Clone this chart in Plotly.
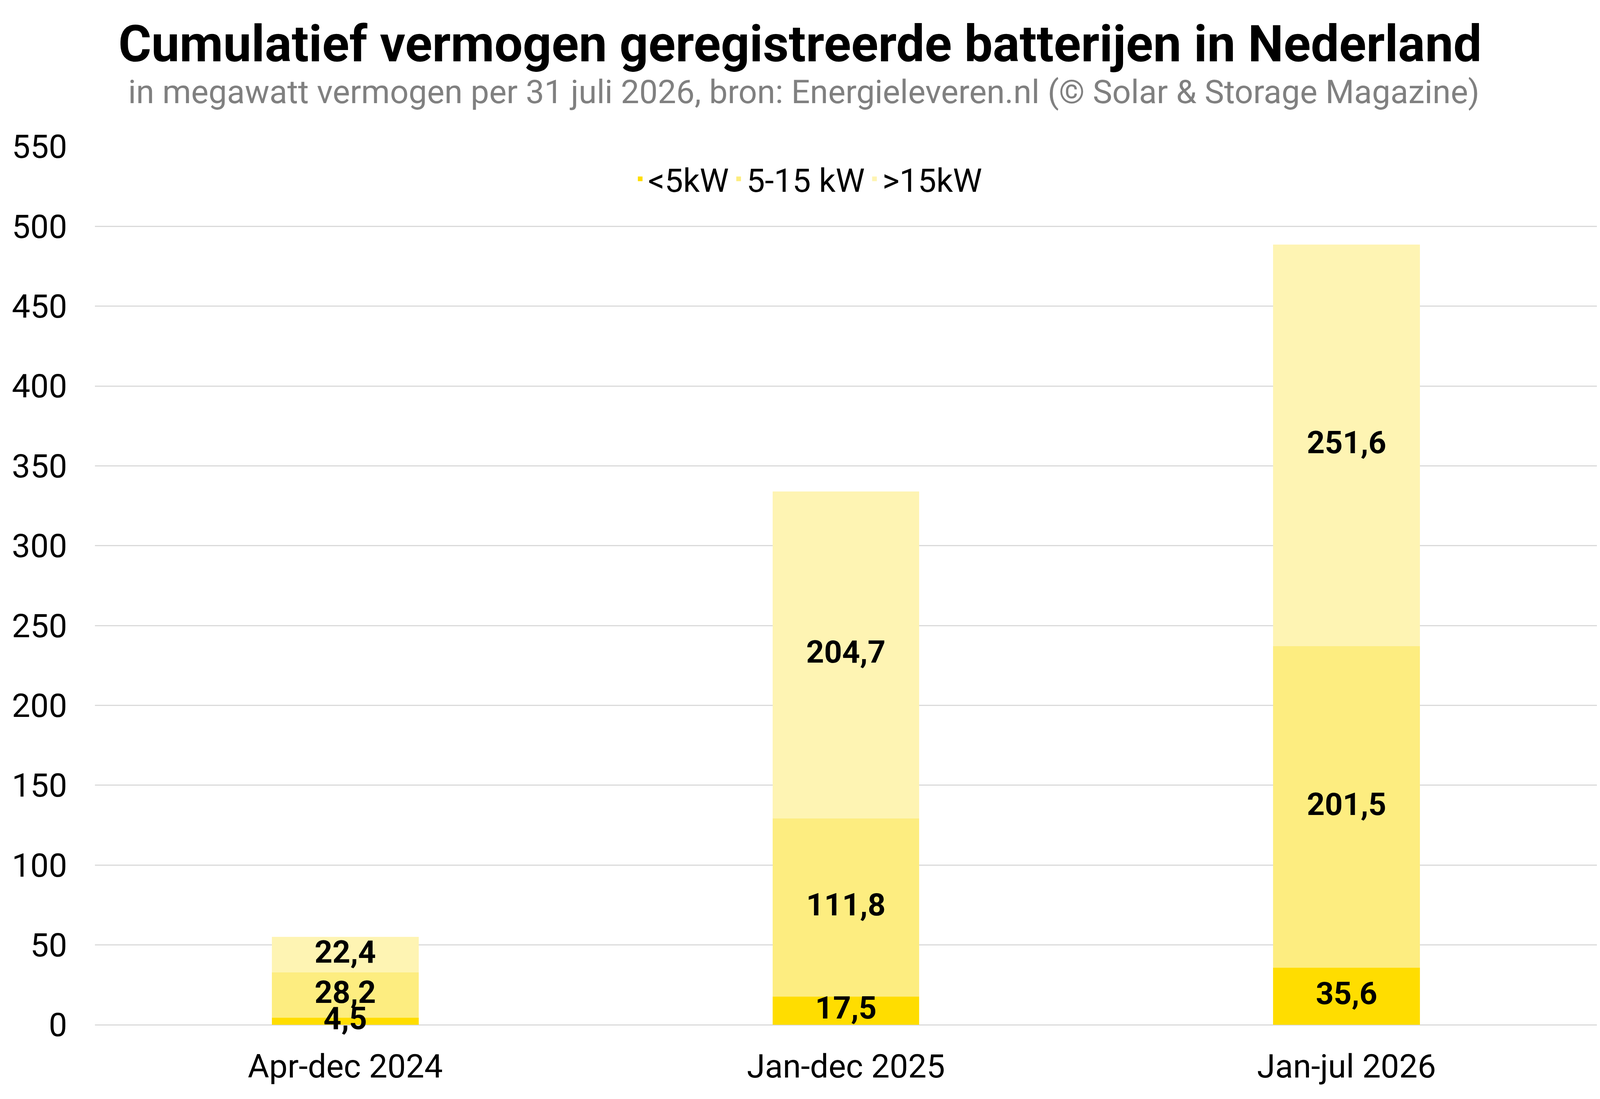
import plotly.graph_objects as go

# data
categories = ['Apr-dec 2024', 'Jan-dec 2025', 'Jan-jul 2026']
small = [4.5, 17.5, 35.6]      # <5kW
medium = [28.2, 111.8, 201.5]  # 5-15 kW
large = [22.4, 204.7, 251.6]   # >15kW
y_ticks = list(range(0, 551, 50))

series = [
    ('<5kW', small, '#FFDD00'),
    ('5-15 kW', medium, '#FDED80'),
    ('>15kW', large, '#FEF4B3'),
]

fig = go.Figure()
base = [0.0] * len(categories)
labels = []
for name, vals, col in series:
    fig.add_trace(go.Bar(
        x=categories,
        y=vals,
        name=name,
        marker=dict(color=col, line=dict(width=0)),
        hoverinfo='skip',
    ))
    # label in the middle of each segment
    mids = [b + v / 2 for b, v in zip(base, vals)]
    labels.append((mids, [f'{v:.1f}'.replace('.', ',') for v in vals]))
    base = [b + v for b, v in zip(base, vals)]

# text on top of all bars
for mids, txt in labels:
    fig.add_trace(go.Scatter(
        x=categories, y=mids, text=txt, mode='text',
        textposition='middle center',
        textfont=dict(family='Roboto', size=80, color='black', weight='bold'),
        showlegend=False, cliponaxis=False, hoverinfo='skip',
    ))

fig.update_layout(
    barmode='stack',
    bargap=0.707,
    paper_bgcolor='white',
    plot_bgcolor='white',
    margin=dict(l=235, r=0, t=367, b=182),
    font=dict(family='Roboto', size=84, color='black'),
    title=dict(
        text='<b>Cumulatief vermogen geregistreerde batterijen in Nederland</b>',
        x=0.5, xanchor='center',
        y=0.963, yanchor='middle',
        font=dict(family='Roboto', size=129, color='black'),
    ),
    annotations=[dict(
        text='in megawatt vermogen per 31 juli 2026, bron: Energieleveren.nl (© Solar & Storage Magazine)',
        xref='paper', yref='paper', x=0.472, y=1.062, xanchor='center', yanchor='middle',
        showarrow=False, font=dict(size=84, color='#808080'),
    )],
    legend=dict(
        orientation='h',
        x=0.475, xanchor='center',
        y=0.963, yanchor='middle',
        font=dict(size=84),
        traceorder='normal',
        itemwidth=30,
        bgcolor='rgba(0,0,0,0)',
    ),
    showlegend=True,
)

fig.update_yaxes(
    range=[0, 550],
    tickvals=y_ticks,
    showgrid=True,
    gridcolor='#DADADA',
    gridwidth=3,
    zeroline=True,
    zerolinecolor='#DADADA',
    zerolinewidth=3,
    ticklabelstandoff=70,
    tickfont=dict(size=84, color='black'),
)
fig.update_xaxes(
    showgrid=False,
    showline=False,
    ticklabelstandoff=50,
    tickfont=dict(size=84, color='black'),
)

fig.write_html('out.html')
